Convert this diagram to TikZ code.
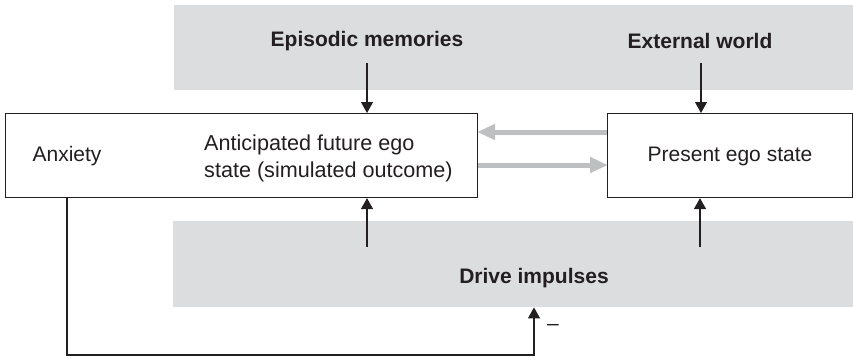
\documentclass[tikz,border=0pt]{standalone}
\usepackage{fontspec}
\setmainfont{Liberation Sans}
\usetikzlibrary{arrows.meta}
\definecolor{ink}{RGB}{35,31,32}
\definecolor{bandgray}{RGB}{220,221,223}
\definecolor{flowgray}{RGB}{190,191,193}
\tikzset{
  band/.style={fill=bandgray, draw=none, anchor=north west, inner sep=0pt},
  statebox/.style={draw=ink, line width=1.1pt, fill=white, anchor=north west, inner sep=0pt},
  plain/.style={text=ink, font=\fontsize{21}{27}\selectfont, align=center, inner sep=0pt},
  title/.style={text=ink, font=\fontsize{21}{27}\selectfont\bfseries, inner sep=0pt},
  link/.style={draw=ink, line width=1.1pt, -{Triangle[length=11pt,width=12pt]}},
  flow/.style={draw=flowgray, line width=5pt, -{Triangle[length=18pt,width=15pt]}, shorten >=-1pt}
}
\begin{document}
\begin{tikzpicture}[x=1pt, y=-1pt]
  \useasboundingbox (0,0) rectangle (853,357);

  % shaded source bands
  \node[band, minimum width=679pt, minimum height=85pt] (topband) at (174,5) {};
  \node[band, minimum width=680pt, minimum height=86pt] (botband) at (173,221) {};

  \node[title] (memories) at (367,41) {Episodic memories};
  \node[title] (world) at (700,41) {External world};
  \node[title] (drives) at (534,278) {Drive impulses};

  % ego-state boxes
  \node[statebox, minimum width=472pt, minimum height=84pt] (future) at (5,113) {};
  \node[statebox, minimum width=245pt, minimum height=84pt] (present) at (607,113) {};

  \node[plain] (anxiety) at (67,156) {Anxiety};
  \node[plain, align=left, anchor=west, font=\fontsize{21.6}{27}\selectfont] (anticipated) at (204,158)
    {Anticipated future ego\\state (simulated outcome)};
  \node[plain] (presentlabel) at (730,156) {Present ego state};

  % arrow origins inside the bands
  \coordinate (memsrc) at (367,63);
  \coordinate (worldsrc) at (701,63);
  \coordinate (drvsrcL) at (367,247);
  \coordinate (drvsrcR) at (700,247);

  % inputs from above
  \draw[link] (memsrc) -- (memsrc |- future.north);
  \draw[link] (worldsrc) -- (worldsrc |- present.north);

  % inputs from below
  \draw[link] (drvsrcL) -- (drvsrcL |- future.south);
  \draw[link] (drvsrcR) -- (drvsrcR |- present.south);

  % exchange between the two ego states
  \draw[flow] (present.west |- 0,132) -- (future.east |- 0,132);
  \draw[flow] (future.east |- 0,165) -- (present.west |- 0,165);

  % anxiety feedback onto the drives
  \coordinate (fbstart) at (67,197);
  \coordinate (fbcorner) at (67,355);
  \draw[link] (fbstart) -- (fbcorner) -- (fbcorner -| drives) -- (drives |- botband.south);
  \node[text=ink, font=\fontsize{21}{27}\selectfont, anchor=west, inner sep=0pt] (minus) at (547,327) {–};
\end{tikzpicture}
\end{document}
